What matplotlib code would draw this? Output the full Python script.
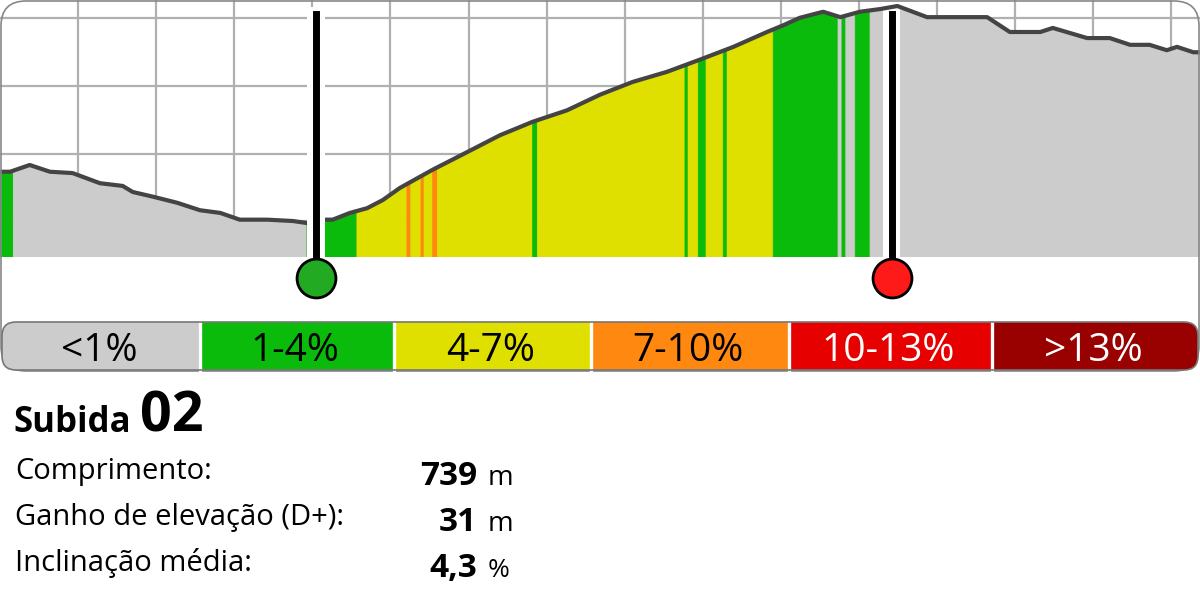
import matplotlib.pyplot as plt
import numpy as np
from matplotlib.patches import FancyBboxPatch, Rectangle

plt.rcParams['font.family'] = ['Open Sans', 'DejaVu Sans']

# elevation profile: distance (m) and elevation (m)
dist = [0, 13, 38, 64, 93, 128, 157, 170, 196, 227, 256, 282, 307, 342, 375, 393,
        405, 416, 426, 448, 470, 490, 512, 554, 598, 640, 682, 726, 768, 810, 854,
        896, 939, 982, 1003, 1024, 1054, 1076, 1101, 1127, 1149, 1187, 1264, 1293,
        1332, 1348, 1392, 1421, 1447, 1472, 1494, 1507, 1528, 1536]
elev = [117.3, 117.3, 118.3, 117.3, 117.1, 115.6, 115.2, 114.3, 113.6, 112.7, 111.6,
        111.2, 110.2, 110.2, 110.0, 109.7, 109.85, 110.2, 110.2, 111.2, 111.9, 113.1,
        114.9, 117.6, 120.2, 122.7, 124.7, 126.4, 128.7, 130.6, 132.1, 133.9, 135.8,
        138.0, 139.0, 140.1, 141.0, 140.2, 141.0, 141.4, 141.85, 140.2, 140.2, 138.0,
        138.0, 138.6, 137.1, 137.1, 136.1, 136.1, 135.3, 135.8, 135.0, 135.0]

# gradient class of each stretch (0: <1%, 1: 1-4%, 2: 4-7%, 3: 7-10%)
seg_start = [0, 17, 393, 457, 521, 526, 539, 543, 554, 560, 682, 688, 877, 881,
             894, 904, 926, 931, 990, 1073, 1078, 1083, 1095, 1114]
seg_end = [17, 393, 457, 521, 526, 539, 543, 554, 560, 682, 688, 877, 881, 894,
           904, 926, 931, 990, 1073, 1078, 1083, 1095, 1114, 1536]
seg_class = [1, 0, 1, 2, 3, 2, 3, 2, 3, 2, 1, 2, 1, 2, 1, 2, 1, 2, 1, 0, 1, 0, 1, 0]

climb_start = 405
climb_end = 1142

classes = ['<1%', '1-4%', '4-7%', '7-10%', '10-13%', '>13%']
class_colors = ['#cccccc', '#0bbb0b', '#dfdf00', '#ff8811', '#e60000', '#990000']
class_text = ['black', 'black', 'black', 'black', 'white', 'white']

title = 'Subida'
climb_no = '02'
stat_labels = ['Comprimento:', 'Ganho de elevação (D+):', 'Inclinação média:']
stat_values = ['739', '31', '4,3']
stat_units = ['m', 'm', '%']

fig = plt.figure(figsize=(12, 6), dpi=100)

# profile
ax = fig.add_axes([0, 1 - 257 / 600, 1, 257 / 600])
ax.set_xlim(0, 1536.5)
ax.set_ylim(104.67, 142.74)
ax.set_xticks(np.arange(100, 1501, 100))
ax.set_yticks([110, 120, 130, 140])
ax.grid(True, color='#b0b0b0', lw=1.6)
ax.set_axisbelow(True)
ax.tick_params(length=0, labelbottom=False, labelleft=False)
for s in ax.spines.values():
    s.set_visible(False)

d = np.array(dist)
e = np.array(elev)
for a, b, c in zip(seg_start, seg_end, seg_class):
    xs = np.concatenate([[a], d[(d > a) & (d < b)], [b]])
    ys = np.interp(xs, d, e)
    ax.fill_between(xs, 0, ys, facecolor=class_colors[c], edgecolor=class_colors[c],
                    lw=0.5, zorder=2)
ax.plot(d, e, color='#444444', lw=3, zorder=4, solid_capstyle='round',
        solid_joinstyle='round')

# start / end markers
ax.add_patch(Rectangle((climb_start - 12, 104.67), 23, 141.7 - 104.67,
                       fc='white', lw=0, zorder=5))
ax.add_patch(Rectangle((climb_end - 11, 104.67), 21, 141.5 - 104.67,
                       fc='white', lw=0, zorder=3))
for x, col in [(climb_start, '#22aa22'), (climb_end, '#ff1a1a')]:
    ax.plot([x, x], [140.67, 101.6], color='black', lw=5, clip_on=False, zorder=6)
    ax.plot(x, 101.6, 'o', ms=28, mfc=col, mec='black', mew=2, clip_on=False,
            zorder=7)

# overlay in pixel coordinates
ov = fig.add_axes([0, 0, 1, 1], zorder=10)
ov.set_xlim(0, 1200)
ov.set_ylim(600, 0)
ov.axis('off')

ov.add_patch(FancyBboxPatch((1, 1), 1198, 370, boxstyle='round,pad=0,rounding_size=25',
                            fc='none', ec='#888888', lw=1.2))

bar = FancyBboxPatch((2, 322), 1196, 48, boxstyle='round,pad=0,rounding_size=14',
                     fc='none', ec='#777777', lw=1.2, zorder=3)
ov.add_patch(bar)
edges = [2, 200, 394, 591, 789, 992, 1198]
for i, (lab, col, tc) in enumerate(zip(classes, class_colors, class_text)):
    x0, x1 = edges[i], edges[i + 1]
    r = Rectangle((x0, 322), x1 - x0, 48, fc=col, lw=0, zorder=1)
    ov.add_patch(r)
    r.set_clip_path(bar)
    if i > 0:
        ov.plot([x0, x0], [322, 370], color='white', lw=2.4, zorder=2)
    ov.text((x0 + x1) / 2 - 2, 361, lab, ha='center', va='baseline', fontsize=28,
            color=tc, zorder=4)

ov.text(13, 432, title, fontsize=25, fontweight='bold', va='baseline')
ov.text(140, 432, climb_no, fontsize=40, fontweight='bold', va='baseline')
for i, (lab, val, unit) in enumerate(zip(stat_labels, stat_values, stat_units)):
    yb = 479 + i * 46
    ov.text(15, yb, lab, fontsize=21, va='baseline')
    ov.text(477, yb + 6, val, fontsize=24, fontweight='bold', ha='right', va='baseline')
    ov.text(488, yb + 6, unit, fontsize=20 if unit == 'm' else 19, va='baseline')

fig.savefig('out.png', dpi=100)
